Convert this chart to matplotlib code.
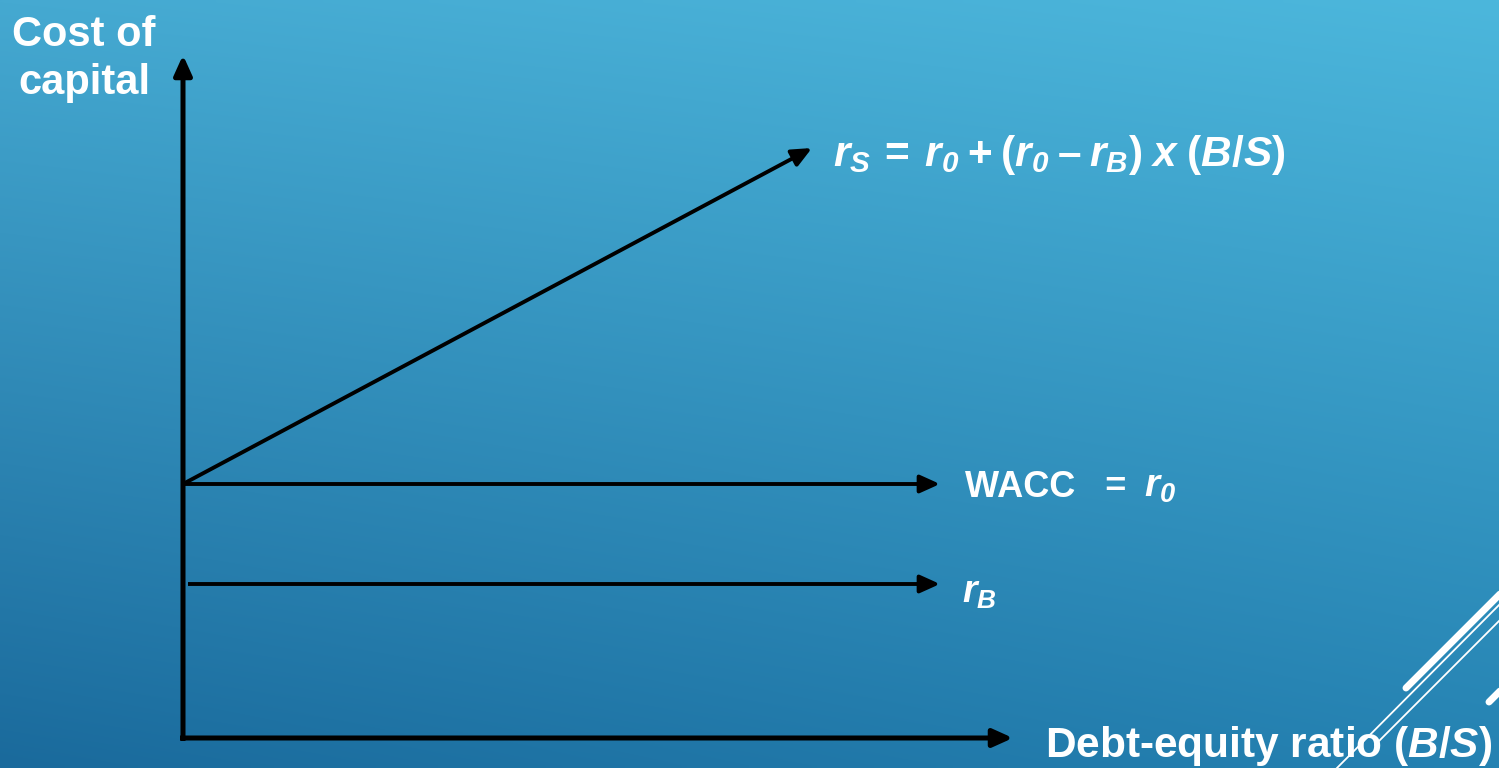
import numpy as np
import matplotlib
matplotlib.use("Agg")
import matplotlib.pyplot as plt
from matplotlib.lines import Line2D

plt.rcParams['font.family'] = ['Liberation Sans', 'DejaVu Sans']
plt.rcParams['mathtext.fontset'] = 'custom'
plt.rcParams['mathtext.rm'] = 'Liberation Sans:bold'
plt.rcParams['mathtext.it'] = 'Liberation Sans:bold:italic'
# bf used for the italic digit subscripts (mathtext keeps digits upright in \mathit)
plt.rcParams['mathtext.bf'] = 'Liberation Sans:bold:italic'

# chart units: debt-equity ratio (x) vs cost of capital (y), origin at the axes corner
x_max = 830          # end of the x axis arrow
y_max = 683          # end of the y axis arrow
r0 = 254             # WACC = r0
rB = 154             # cost of debt
rS_end = 590         # r_S at the arrow tip
rS_x_end = 629
flat_x_end = 757
rB_x_start = 5

line_names = ['rS', 'WACC', 'rB']
line_x0 = [0, 0, rB_x_start]
line_x1 = [rS_x_end, flat_x_end, flat_x_end]
line_y0 = [r0, r0, rB]
line_y1 = [rS_end, r0, rB]

W, H = 1499, 768
ox, oy = 183, 738   # pixel position of the origin
fig = plt.figure(figsize=(W / 100, H / 100), dpi=100)

# gradient background (bilinear from the four corners)
c_tl = np.array([0x45, 0xA9, 0xD1]) / 255
c_tr = np.array([0x4C, 0xB7, 0xDC]) / 255
c_bl = np.array([0x1A, 0x6A, 0x9C]) / 255
c_br = np.array([0x25, 0x82, 0xB2]) / 255
u = np.linspace(0, 1, 300)[None, :, None]
v = np.linspace(0, 1, 160)[:, None, None]
grad = (1 - v) * ((1 - u) * c_tl + u * c_tr) + v * ((1 - u) * c_bl + u * c_br)
bg = fig.add_axes([0, 0, 1, 1])
bg.imshow(grad, aspect='auto', extent=[0, 1, 0, 1], interpolation='bilinear')
bg.axis('off')

ax = fig.add_axes([0, 0, 1, 1])
ax.patch.set_alpha(0)
ax.set_xlim(-ox, W - ox)
ax.set_ylim(oy - H, oy)
ax.axis('off')

def arrow(x0, y0, x1, y1, lw):
    ax.annotate('', xy=(x1, y1), xytext=(x0, y0),
                arrowprops=dict(arrowstyle='-|>,head_length=0.4,head_width=0.18',
                                lw=lw, color='black', mutation_scale=30,
                                shrinkA=0, shrinkB=0, capstyle='butt'))

# axes
arrow(0, -3, 0, y_max, 3.6)
arrow(-3, 0, x_max, 0, 3.6)

for name, x0, x1, y0, y1 in zip(line_names, line_x0, line_x1, line_y0, line_y1):
    arrow(x0, y0, x1, y1, 2.8)

# labels
ax.text(84 - ox, oy - 15, 'Cost of\ncapital', color='white', fontsize=30,
        fontweight='bold', ha='center', va='top', multialignment='center',
        linespacing=1.25)
ax.text(1045 - ox, oy - 757, r'Debt-equity ratio ($B/S$)', color='white',
        fontsize=30.5, fontweight='bold', ha='left', va='baseline')
ax.text(833 - ox, oy - 166,
        r'$r_{S}\,\mathrm{=}\:r_{\mathbf{0}}\:\mathrm{+}\:(r_{\mathbf{0}}\:\mathrm{–}\:r_{B})\;x\;(B/S)$',
        color='white', fontsize=30.5, ha='left', va='baseline')
ax.text(965 - ox, oy - 497, 'WACC   =', color='white',
        fontsize=26, fontweight='bold', ha='left', va='baseline')
ax.text(1144 - ox, oy - 497, r'$r_{\mathbf{0}}$', color='white',
        fontsize=28, ha='left', va='baseline')
ax.text(962 - ox, oy - 603, r'$r_{B}$', color='white', fontsize=27,
        ha='left', va='baseline')

# decorative white strokes in the corner
def stroke(x0, y0, x1, y1, lw):
    fig.add_artist(Line2D([x0 / W, x1 / W], [1 - y0 / H, 1 - y1 / H],
                          transform=fig.transFigure, color='white', lw=lw,
                          solid_capstyle='round'))

stroke(1406, 688, 1502, 592, 5)
stroke(1335, 770, 1502, 602, 1.3)
stroke(1375, 745, 1502, 618, 1.3)
stroke(1489, 702, 1502, 689, 5)

fig.savefig('out.png', dpi=100)
